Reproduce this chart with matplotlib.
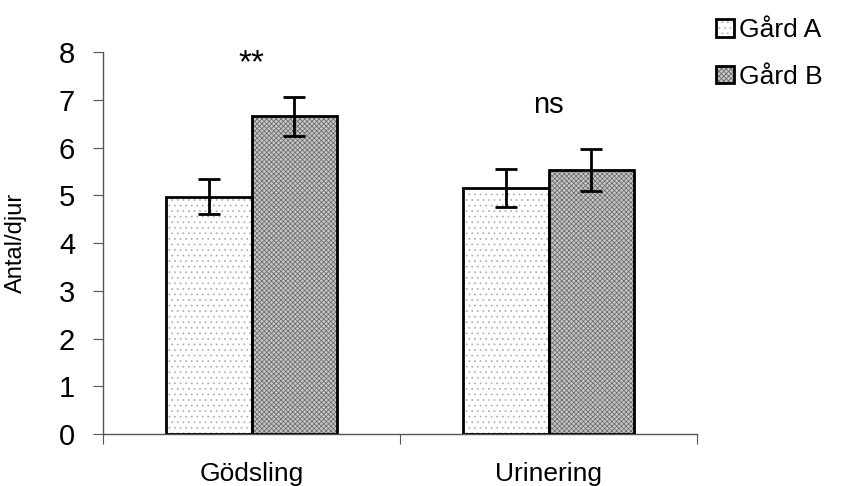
import matplotlib.pyplot as plt
import numpy as np
from matplotlib.patches import Patch

plt.rcParams['font.family'] = ['Liberation Sans', 'DejaVu Sans']
plt.rcParams['hatch.linewidth'] = 0.6

categories = ['Gödsling', 'Urinering']
series = ['Gård A', 'Gård B']
gard_a = [4.97, 5.16]
gard_b = [6.65, 5.53]
err_a = [0.37, 0.40]
err_b = [0.40, 0.44]
sig_labels = ['**', 'ns']
sig_y = [7.42, 6.6]

fill_a = dict(facecolor='#ffffff', edgecolor='#b4b4b4', hatch='...')
fill_b = dict(facecolor='#c8c8c8', edgecolor='#707070', hatch='xxxxxxx')

fig = plt.figure(figsize=(8.44, 4.86), dpi=100)
ax = fig.add_axes([103 / 844, 52 / 486, 594 / 844, (434 - 52) / 486])

x = np.arange(len(categories)) + 0.5
w = 0.287

ax.bar(x - w / 2, gard_a, w, linewidth=0, zorder=2, **fill_a)
ax.bar(x + w / 2, gard_b, w, linewidth=0, zorder=2, **fill_b)
ax.bar(x - w / 2, gard_a, w, fill=False, edgecolor='black', linewidth=2, zorder=3)
ax.bar(x + w / 2, gard_b, w, fill=False, edgecolor='black', linewidth=2, zorder=3)

ax.errorbar(x - w / 2, gard_a, yerr=err_a, fmt='none', ecolor='black',
            elinewidth=2, capsize=8, capthick=2, zorder=4)
ax.errorbar(x + w / 2, gard_b, yerr=err_b, fmt='none', ecolor='black',
            elinewidth=2, capsize=8, capthick=2, zorder=4)

for xi, lab, yy in zip(x, sig_labels, sig_y):
    fs = 24 if lab == '**' else 21
    ax.text(xi, yy, lab, ha='center', va='bottom', fontsize=fs)

ax.set_xlim(0, 2)
ax.set_ylim(0, 8)
ax.set_yticks(range(0, 9))
ax.set_xticks([0, 1, 2])
ax.set_xticklabels(['', '', ''])
ax.set_xticks(x, minor=True)
ax.set_xticklabels(categories, minor=True, fontsize=19)
ax.tick_params(axis='x', which='minor', length=0, pad=20)
ax.tick_params(axis='x', which='major', direction='out', length=7, color='#555555')
ax.tick_params(axis='y', direction='out', length=7, labelsize=21, color='#555555', pad=13)
ax.set_ylabel('Antal/djur', fontsize=17)
ax.yaxis.set_label_coords(-0.128, 0.5)

for s in ['top', 'right']:
    ax.spines[s].set_visible(False)
for s in ['left', 'bottom']:
    ax.spines[s].set_color('#555555')
    ax.spines[s].set_linewidth(1)

outline = dict(fill=False, edgecolor='black', linewidth=2)
handles = [(Patch(linewidth=0, **fill_a), Patch(**outline)),
           (Patch(linewidth=0, **fill_b), Patch(**outline))]
leg = fig.legend(handles, series, loc='upper left', bbox_to_anchor=(698 / 844, 1.0),
                 frameon=False, fontsize=19, handlelength=0.65, handleheight=0.65,
                 handletextpad=0.2, labelspacing=0.85, borderaxespad=0.3)

fig.savefig('out.png', dpi=100)
